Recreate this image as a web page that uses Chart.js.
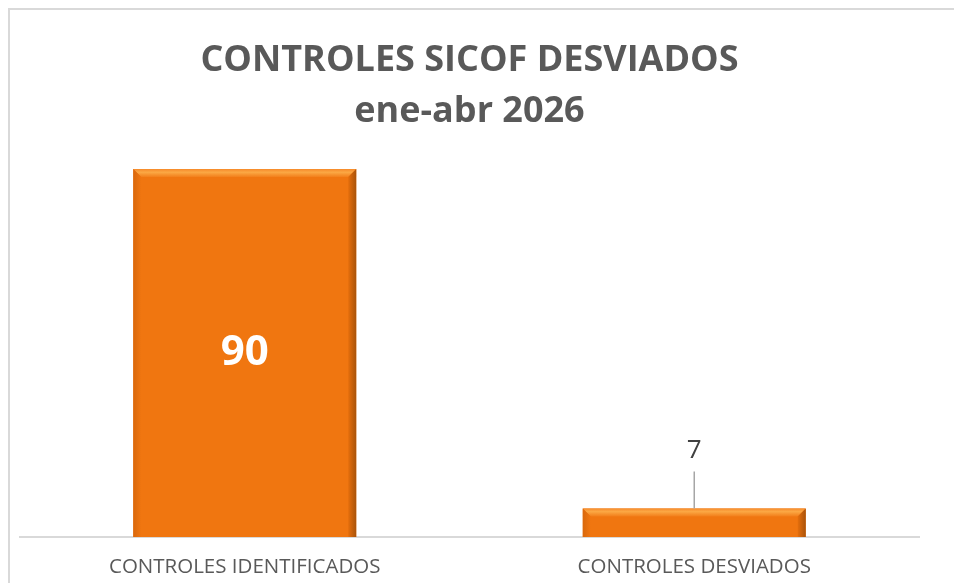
<!DOCTYPE html>
<html>
<head>
<meta charset="utf-8">
<script src="https://cdn.jsdelivr.net/npm/chart.js@4.4.1/dist/chart.umd.min.js"></script>
<style>
  html, body { margin: 0; padding: 0; background: #fff; overflow: hidden; }
  #wrap { position: relative; width: 954px; height: 583px; }
  #chart { display: block; }
  #frame { position: absolute; left: 8px; top: 8px; width: 980px; height: 600px;
           border: 2px solid #d9d9d9; box-sizing: border-box; pointer-events: none; }
</style>
</head>
<body>
<div id="wrap">
  <canvas id="chart" width="954" height="583"></canvas>
  <div id="frame"></div>
</div>
<script>
/* Controles SICOF desviados — bar chart with bevelled bars */

const categories = ["CONTROLES IDENTIFICADOS", "CONTROLES DESVIADOS"];
const values = [90, 7];
const titleLines = ["CONTROLES SICOF DESVIADOS", "ene-abr 2026"];

const FONT = "'Open Sans', 'Noto Sans', sans-serif";
const ORANGE = "#f07610";

/* bevel look: lighter top edge, darker right edge, soft left edge */
const bevelPlugin = {
  id: "bevel",
  afterDatasetsDraw(chart) {
    const ctx = chart.ctx;
    chart.getDatasetMeta(0).data.forEach((bar) => {
      const left = bar.x - bar.width / 2, right = bar.x + bar.width / 2;
      const top = bar.y, bottom = bar.base;
      const b = Math.min(8, (bottom - top) / 2);
      ctx.save();
      // top
      let g = ctx.createLinearGradient(0, top, 0, top + b);
      g.addColorStop(0, "#f68a2a");
      g.addColorStop(0.4, "#fba844");
      g.addColorStop(1, "#f27e1a");
      ctx.fillStyle = g;
      ctx.beginPath();
      ctx.moveTo(left, top); ctx.lineTo(right, top);
      ctx.lineTo(right - b, top + b); ctx.lineTo(left + b, top + b);
      ctx.closePath(); ctx.fill();
      // right
      g = ctx.createLinearGradient(right - b, 0, right, 0);
      g.addColorStop(0, "#e56e0c");
      g.addColorStop(1, "#a9530a");
      ctx.fillStyle = g;
      ctx.beginPath();
      ctx.moveTo(right, top); ctx.lineTo(right, bottom);
      ctx.lineTo(right - b, bottom); ctx.lineTo(right - b, top + b);
      ctx.closePath(); ctx.fill();
      // left
      g = ctx.createLinearGradient(left, 0, left + b, 0);
      g.addColorStop(0, "#d9680c");
      g.addColorStop(1, "#f07610");
      ctx.fillStyle = g;
      ctx.beginPath();
      ctx.moveTo(left, top); ctx.lineTo(left + b, top + b);
      ctx.lineTo(left + b, bottom); ctx.lineTo(left, bottom);
      ctx.closePath(); ctx.fill();
      ctx.restore();
    });
  },
};

/* value labels: inside for the tall bar, above with leader line for the short one */
const labelPlugin = {
  id: "valueLabels",
  afterDatasetsDraw(chart) {
    const ctx = chart.ctx;
    chart.getDatasetMeta(0).data.forEach((bar, i) => {
      const v = values[i];
      ctx.save();
      ctx.textAlign = "center";
      ctx.textBaseline = "middle";
      if (bar.base - bar.y > 60) {
        ctx.fillStyle = "#ffffff";
        ctx.font = "bold 42px " + FONT;
        ctx.fillText(String(v), bar.x, (bar.y + bar.base) / 2);
      } else {
        const ly = bar.y - 58;
        ctx.fillStyle = "#404040";
        ctx.font = "26px " + FONT;
        ctx.fillText(String(v), bar.x, ly);
        ctx.strokeStyle = "#a6a6a6";
        ctx.lineWidth = 1.5;
        ctx.beginPath();
        ctx.moveTo(bar.x, ly + 21);
        ctx.lineTo(bar.x, bar.y);
        ctx.stroke();
      }
      ctx.restore();
    });
  },
};

new Chart(document.getElementById("chart"), {
  type: "bar",
  data: {
    labels: categories,
    datasets: [{
      data: values,
      backgroundColor: ORANGE,
      borderWidth: 0,
      categoryPercentage: 1,
      barPercentage: 0.496,
    }],
  },
  options: {
    responsive: false,
    animation: false,
    layout: { padding: { top: 35, left: 20, right: 35, bottom: 0 } },
    plugins: {
      legend: { display: false },
      tooltip: { enabled: false },
      title: {
        display: true,
        text: titleLines,
        color: "#595959",
        font: { family: FONT, size: 36, weight: "bold", lineHeight: 1.42 },
        padding: { top: 0, bottom: -9 },
      },
    },
    scales: {
      y: { display: false, min: 0, max: 100 },
      x: {
        afterFit(scale) { scale.height = 46; },
        grid: { display: false, drawTicks: false },
        border: { color: "#d9d9d9", width: 2 },
        ticks: { color: "#595959", font: { family: FONT, size: 20.5 }, padding: 18 },
      },
    },
  },
  plugins: [bevelPlugin, labelPlugin],
});
</script>
</body>
</html>
